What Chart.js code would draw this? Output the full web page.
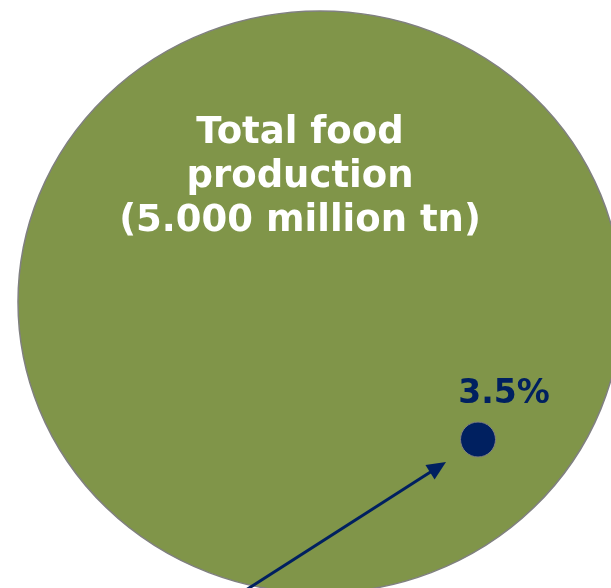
<!DOCTYPE html>
<html>
<head>
<meta charset="utf-8">
<script src="https://cdn.jsdelivr.net/npm/chart.js@4/dist/chart.umd.min.js"></script>
<style>
  html, body { margin: 0; padding: 0; background: #fff; }
  #wrap { width: 611px; height: 588px; }
</style>
</head>
<body>
<div id="wrap"><canvas id="chart"></canvas></div>
<script>
// data
const categories = ['Total food production', 'Share'];
const values = [5000, 3.5];          // million tn, percent
const labelLines = ['Total food', 'production', '(5.000 million tn)'];
const shareLabel = '3.5%';

// layout (chart units, same size as the canvas)
const bigBubble = { x: 320, y: 302, rx: 302, ry: 291 };
const smallBubble = { x: 478, y: 439.5, r: 17.5 };
const arrow = { x1: 246, y1: 590, x2: 446, y2: 462 };
const titleBaselines = [143, 187, 231];

const green = '#809549';
const navy = '#002060';

const ellipsePlugin = {
  id: 'ellipse',
  beforeDatasetDraw(chart, args) {
    if (args.index !== 0) return;
    const ctx = chart.ctx;
    const cy = chart.scales.y.getPixelForValue(bigBubble.y);
    ctx.save();
    ctx.translate(0, cy);
    ctx.scale(1, bigBubble.ry / bigBubble.rx);
    ctx.translate(0, -cy);
  },
  afterDatasetDraw(chart, args) {
    if (args.index !== 0) return;
    chart.ctx.restore();
  }
};

const labelPlugin = {
  id: 'labels',
  afterDatasetsDraw(chart) {
    const ctx = chart.ctx;
    const sx = chart.scales.x, sy = chart.scales.y;
    ctx.save();
    // arrow
    const x1 = sx.getPixelForValue(arrow.x1), y1 = sy.getPixelForValue(arrow.y1);
    const x2 = sx.getPixelForValue(arrow.x2), y2 = sy.getPixelForValue(arrow.y2);
    const a = Math.atan2(y2 - y1, x2 - x1);
    const head = 19, half = 8.5;
    ctx.strokeStyle = navy;
    ctx.fillStyle = navy;
    ctx.lineWidth = 3;
    ctx.beginPath();
    ctx.moveTo(x1, y1);
    ctx.lineTo(x2 - head * 0.8 * Math.cos(a), y2 - head * 0.8 * Math.sin(a));
    ctx.stroke();
    ctx.beginPath();
    ctx.moveTo(x2, y2);
    ctx.lineTo(x2 - head * Math.cos(a) + half * Math.sin(a), y2 - head * Math.sin(a) - half * Math.cos(a));
    ctx.lineTo(x2 - head * Math.cos(a) - half * Math.sin(a), y2 - head * Math.sin(a) + half * Math.cos(a));
    ctx.closePath();
    ctx.fill();

    // title text in the big bubble
    ctx.textAlign = 'center';
    ctx.textBaseline = 'alphabetic';
    ctx.fillStyle = '#ffffff';
    ctx.font = 'bold 37px "DejaVu Sans", Verdana, sans-serif';
    labelLines.forEach((line, i) => {
      ctx.fillText(line, sx.getPixelForValue(300), sy.getPixelForValue(titleBaselines[i]));
    });

    // share label
    ctx.fillStyle = navy;
    ctx.font = 'bold 33px "DejaVu Sans", Verdana, sans-serif';
    ctx.fillText(shareLabel, sx.getPixelForValue(504), sy.getPixelForValue(403));
    ctx.restore();
  }
};

new Chart(document.getElementById('chart'), {
  type: 'bubble',
  data: {
    datasets: [{
      label: categories[0],
      data: [{ x: bigBubble.x, y: bigBubble.y, r: bigBubble.rx, v: values[0] }],
      backgroundColor: green,
      borderColor: '#808080',
      borderWidth: 1.5,
      order: 1
    }, {
      label: categories[1],
      data: [{ x: smallBubble.x, y: smallBubble.y, r: smallBubble.r, v: values[1] }],
      backgroundColor: navy,
      borderColor: '#808080',
      borderWidth: 1,
      order: 0
    }]
  },
  options: {
    responsive: true,
    maintainAspectRatio: false,
    animation: false,
    events: [],
    clip: false,
    layout: { padding: 0, autoPadding: false },
    scales: {
      x: { type: 'linear', min: 0, max: 611, display: false },
      y: { type: 'linear', min: 0, max: 588, reverse: true, display: false }
    },
    plugins: {
      legend: { display: false },
      tooltip: { enabled: false }
    }
  },
  plugins: [ellipsePlugin, labelPlugin]
});
</script>
</body>
</html>
